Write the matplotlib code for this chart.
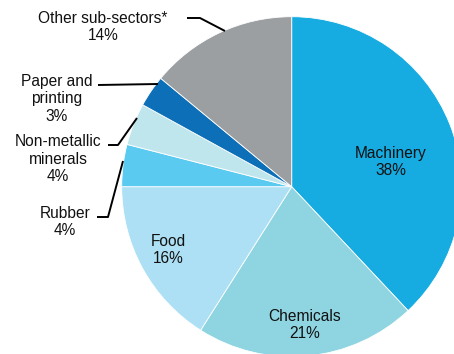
import matplotlib
matplotlib.use("Agg")
import matplotlib.pyplot as plt

categories = ["Machinery", "Chemicals", "Food", "Rubber", "Non-metallic\nminerals",
              "Paper and\nprinting", "Other sub-sectors*"]
values = [38, 21, 16, 4, 4, 3, 14]
colors = ["#16ABE1", "#8ED5E1", "#ADE0F4", "#5BCAF0", "#C0E6ED", "#0C6FB8", "#9B9FA2"]

plt.rcParams['font.family'] = ['Liberation Sans', 'DejaVu Sans']

W, H = 454, 354
fig = plt.figure(figsize=(W / 100, H / 100), dpi=100)
ax = fig.add_axes([0, 0, 1, 1])
ax.set_xlim(0, W)
ax.set_ylim(0, H)
ax.set_aspect('equal')
ax.axis('off')

def P(x, y):
    return (x, H - y)

cx, cy = P(291.7, 186.7)
ax.pie(values, colors=colors, startangle=90, counterclock=False,
       center=(cx, cy), radius=170, frame=True,
       wedgeprops=dict(edgecolor='white', linewidth=0.6))
ax.set_xlim(0, W)
ax.set_ylim(0, H)
ax.axis('off')

fs = 11.2
tc = "#111111"
label_pos = [(391, 162), (305, 325), (168, 250), (65, 222), (58, 159), (57, 99), (103, 27)]
for cat, v, (x, y) in zip(categories, values, label_pos):
    ax.text(*P(x, y), f"{cat}\n{v}%", ha='center', va='center', fontsize=fs,
            color=tc, linespacing=1.18)

lines = [
    [(187, 18), (200, 18), (225, 31)],
    [(98, 85), (158, 84)],
    [(108, 145), (118, 145), (137, 118)],
    [(97, 217), (108, 217), (123, 161)],
]
for pts in lines:
    xs = [p[0] for p in pts]
    ys = [H - p[1] for p in pts]
    ax.plot(xs, ys, color='black', lw=1.4, solid_capstyle='butt')

fig.savefig("out.png", dpi=100)
